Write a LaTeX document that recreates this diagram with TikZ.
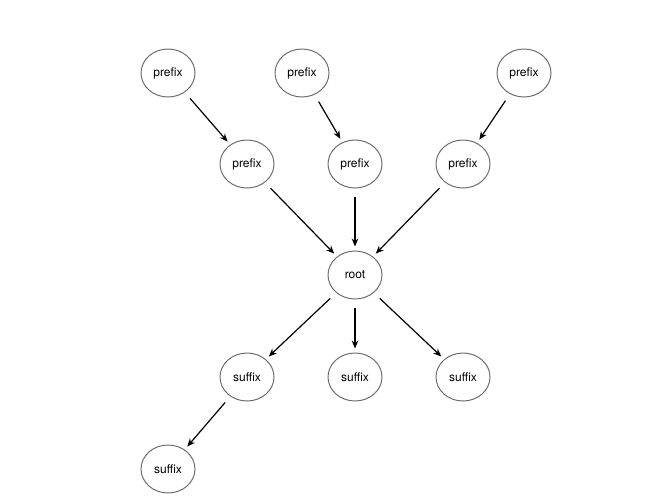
\documentclass[tikz,border=0pt]{standalone}
\usepackage{fontspec}
\setmainfont{TeX Gyre Heros}
\usetikzlibrary{arrows.meta}
\tikzset{every picture/.style={line width=0.75pt}}
\tikzset{
  word/.style={draw={rgb, 255:red, 110; green, 110; blue, 110 },ellipse,minimum width=40.5pt,minimum height=36pt,inner sep=0.75pt,font=\small},
  link/.style={-{Stealth[length=6pt,width=5pt]},line width=0.9pt,shorten <=6pt,shorten >=3pt}
}
\usetikzlibrary{shapes.geometric}
\begin{document}
\begin{tikzpicture}[x=0.75pt,y=0.75pt,yscale=-1,xscale=1]
\useasboundingbox (0,0) rectangle (666,500);

% Text Nodes
\node [word] (p1) at (168,73) {prefix};
\node [word] (p2) at (302,73) {prefix};
\node [word] (p3) at (524,73) {prefix};
\node [word] (q1) at (247,164) {prefix};
\node [word] (q2) at (355,164) {prefix};
\node [word] (q3) at (463,164) {prefix};
\node [word] (root) at (355,275) {root};
\node [word] (s1) at (247,377) {suffix};
\node [word] (s2) at (355,377) {suffix};
\node [word] (s3) at (463,377) {suffix};
\node [word] (s4) at (168,469) {suffix};

% Arrows
\draw [link] (p1) -- (q1);
\draw [link] (p2) -- (q2);
\draw [link] (p3) -- (q3);
\draw [link] (q1) -- (root);
\draw [link] (q2) -- (root);
\draw [link] (q3) -- (root);
\draw [link] (root) -- (s1);
\draw [link] (root) -- (s2);
\draw [link] (root) -- (s3);
\draw [link] (s1) -- (s4);

\end{tikzpicture}
\end{document}
